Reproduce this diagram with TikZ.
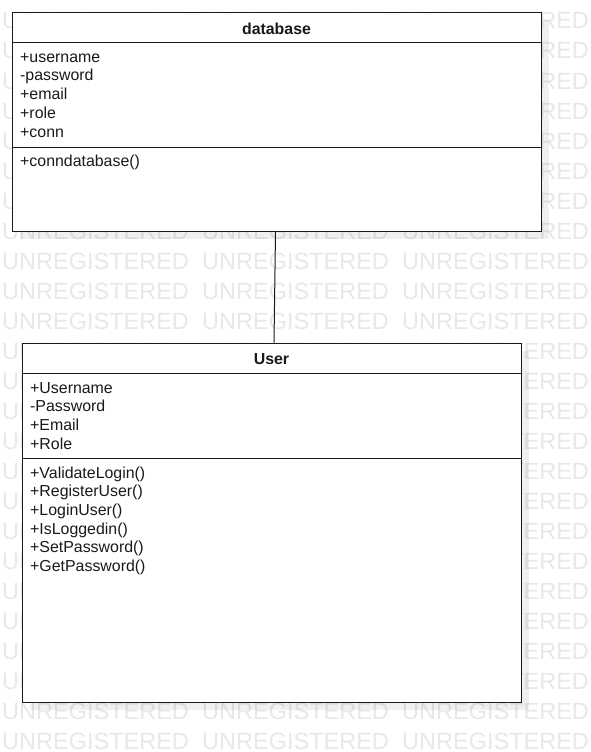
\documentclass[tikz,border=0pt]{standalone}
\usepackage{fontspec}
\setmainfont{Liberation Sans}
\definecolor{wmgray}{HTML}{E8E8E8}
\definecolor{linec}{HTML}{1A1A1A}
\begin{document}
\begin{tikzpicture}[x=1pt,y=-1pt,
  wm/.style={anchor=base west, inner sep=0pt, text=wmgray, font=\fontsize{23.5}{23.5}\selectfont},
  classbox/.style={draw=linec, line width=1pt, fill=white, anchor=north west, inner sep=0pt},
  sepline/.style={draw=linec, line width=1pt},
  member/.style={anchor=base west, inner sep=0pt, text=linec, font=\fontsize{15.9}{18.7}\selectfont},
  title/.style={anchor=base, inner sep=0pt, text=linec, font=\fontsize{15.9}{18.7}\selectfont\bfseries},
  shadowbox/.style={fill=black, fill opacity=0.06, draw=none}
]
\useasboundingbox (0,0) rectangle (591,752);
\fill[white] (0,0) rectangle (591,752);
% watermark
\foreach \r in {0,...,24} {
  \foreach \c in {0,1,2} {
    \node[wm] (wm-\r-\c) at ({2+200*\c},{29+30*\r}) {UNREGISTERED};
  }
}
% shadows
\path[shadowbox] (20,20) rectangle (549,239);
\path[shadowbox] (30,350.5) rectangle (529,709.5);
% database class
\node[classbox, minimum width=529pt, minimum height=219pt] (db) at (12,12) {};
\draw[sepline] ([yshift=-31pt]db.north west) -- ([yshift=-31pt]db.north east);
\draw[sepline] ([yshift=-135pt]db.north west) -- ([yshift=-135pt]db.north east);
\node[title] (db-t) at (276.5,34.5) {database};
\node[member] (db-a1) at (20,62.3) {+username};
\node[member] (db-a2) at (20,81.0) {-password};
\node[member] (db-a3) at (20,99.7) {+email};
\node[member] (db-a4) at (20,118.4) {+role};
\node[member] (db-a5) at (20,137.1) {+conn};
\node[member] (db-m1) at (20,166.3) {+conndatabase()};
% User class
\node[classbox, minimum width=499pt, minimum height=359pt] (user) at (22,342.5) {};
\draw[sepline] ([yshift=-30.5pt]user.north west) -- ([yshift=-30.5pt]user.north east);
\draw[sepline] ([yshift=-115.5pt]user.north west) -- ([yshift=-115.5pt]user.north east);
\node[title] (user-t) at (271.5,364.5) {User};
\node[member] (user-a1) at (30,393.0) {+Username};
\node[member] (user-a2) at (30,411.7) {-Password};
\node[member] (user-a3) at (30,430.4) {+Email};
\node[member] (user-a4) at (30,449.1) {+Role};
\node[member] (user-m1) at (30,478.0) {+ValidateLogin()};
\node[member] (user-m2) at (30,496.7) {+RegisterUser()};
\node[member] (user-m3) at (30,515.4) {+LoginUser()};
\node[member] (user-m4) at (30,534.1) {+IsLoggedin()};
\node[member] (user-m5) at (30,552.8) {+SetPassword()};
\node[member] (user-m6) at (30,571.5) {+GetPassword()};
% association
\draw[sepline] ([xshift=-1.5pt]db.south) -- ([xshift=2pt]user.north);
\end{tikzpicture}
\end{document}
